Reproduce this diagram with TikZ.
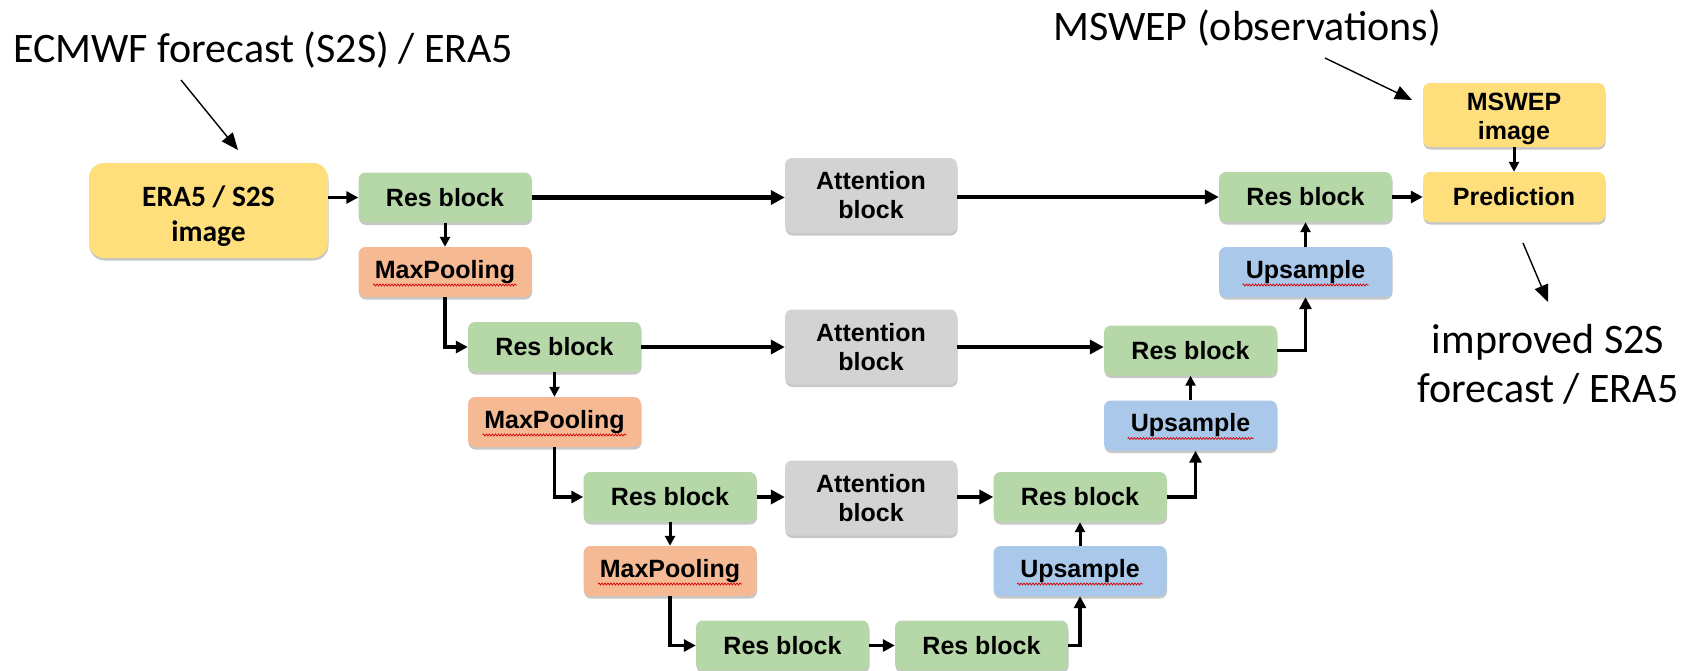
\documentclass[tikz,border=0pt]{standalone}
\usepackage{fontspec}
\setmainfont{Liberation Sans}
\newfontfamily\labelfont{Carlito}
\usetikzlibrary{arrows.meta,shadows,calc,decorations.pathmorphing}

\definecolor{resgreen}{HTML}{B6D7A8}
\definecolor{poolorange}{HTML}{F5B994}
\definecolor{upblue}{HTML}{A9C8EA}
\definecolor{attgray}{HTML}{D3D3D3}
\definecolor{ioyellow}{HTML}{FFDE7C}

\tikzset{
  blk/.style={rounded corners=7pt, minimum width=173pt, minimum height=50pt,
    inner sep=0pt, align=center, font=\bfseries\fontsize{25}{29}\selectfont,
    drop shadow={shadow xshift=0.5pt, shadow yshift=-2.5pt, opacity=0.22, fill=black}},
  res/.style={blk, fill=resgreen},
  pool/.style={blk, fill=poolorange},
  ups/.style={blk, fill=upblue},
  att/.style={blk, fill=attgray, minimum width=172pt, minimum height=75pt},
  io/.style={blk, fill=ioyellow},
  lbl/.style={inner sep=0pt, font=\labelfont\fontsize{42}{49}\selectfont},
  flow/.style={line width=4.5pt, -{Triangle[length=14pt,width=14pt]}},
  elbow/.style={line width=3.5pt, -{Triangle[length=12pt,width=12pt]}},
  short/.style={line width=3pt, -{Triangle[length=10pt,width=10pt]}},
  callout/.style={line width=1.4pt, -{Triangle[length=17pt,width=14pt]}},
  spellline/.style={draw=red!85!black, line width=0.7pt, decorate,
    decoration={snake, amplitude=1pt, segment length=3pt}},
}

% red spell-check wave under a node's text
\newcommand\spellmark[2]{\draw[spellline] ($(#1.center)+(-#2,13)$) -- ($(#1.center)+(#2,13)$);}

\begin{document}
\begin{tikzpicture}[x=1pt,y=-1pt]
\useasboundingbox (0,0) rectangle (1685,670);
\fill[white] (0,0) rectangle (1685,670);

% input / output
\node[io, minimum width=239pt, minimum height=95pt, rounded corners=15pt,
  label={[name=eratext, inner sep=0pt, align=center, yshift=-6pt,
    font=\labelfont\bfseries\fontsize{29.5}{35}\selectfont]center:ERA5 / S2S\\image}]
  (era) at (208.5,210.5) {};
\node[io, minimum width=182pt, minimum height=64pt,
  label={[name=obstext, inner sep=0pt, align=center, yshift=-4pt,
    font=\bfseries\fontsize{25}{29}\selectfont]center:MSWEP\\image}]
  (obs) at (1514,115) {};
\node[io, minimum width=182pt] (pred) at (1514,197) {Prediction};

% encoder
\node[res]  (e1) at (445,197.5) {Res block};
\node[pool] (p1) at (445,272) {MaxPooling};
\node[res]  (e2) at (554.5,347) {Res block};
\node[pool] (p2) at (554.5,422) {MaxPooling};
\node[res]  (e3) at (670,497) {Res block};
\node[pool] (p3) at (670,571) {MaxPooling};

% bottleneck
\node[res] (b1) at (782.5,645.5) {Res block};
\node[res] (b2) at (981.5,645.5) {Res block};

% attention on skip connections
\node[att] (a1) at (871,195.5) {Attention\\block};
\node[att] (a2) at (871,347) {Attention\\block};
\node[att] (a3) at (871,498) {Attention\\block};

% decoder
\node[res] (d3) at (1080,497) {Res block};
\node[ups] (u3) at (1080,571) {Upsample};
\node[res] (d2) at (1190.5,350.5) {Res block};
\node[ups] (u2) at (1190.5,425.5) {Upsample};
\node[res] (d1) at (1305.5,197) {Res block};
\node[ups] (u1) at (1305.5,272) {Upsample};

\spellmark{p1}{72}
\spellmark{p2}{72}
\spellmark{p3}{72}
\spellmark{u1}{63}
\spellmark{u2}{63}
\spellmark{u3}{63}

% encoder path
\draw[elbow] (era.east |- e1.west) -- (e1.west);
\draw[short] (e1) -- (p1);
\draw[elbow] (p1.south) |- (e2.west);
\draw[short] (e2) -- (p2);
\draw[elbow] (p2.south) |- (e3.west);
\draw[short] (e3) -- (p3);
\draw[elbow] (p3.south) |- (b1.west);
\draw[elbow] (b1) -- (b2);

% decoder path
\draw[elbow] (b2.east) -| (u3.south);
\draw[short] (u3) -- (d3);
\draw[elbow] (d3.east) -| ([xshift=5pt]u2.south);
\draw[short] (u2) -- (d2);
\draw[elbow] (d2.east) -| (u1.south);
\draw[short] (u1) -- (d1);
\draw[elbow] (d1) -- (pred);
\draw[short] (obs) -- (pred);

% skip connections through attention
\draw[flow] (e1.east) -- (e1.east -| a1.west);
\draw[flow] (a1.east |- d1.west) -- (d1.west);
\draw[flow] (e2.east) -- (a2.west);
\draw[flow] (a2.east) -- (a2.east -| d2.west);
\draw[flow] (e3.east) -- (e3.east -| a3.west);
\draw[flow] (a3.east |- d3.west) -- (d3.west);

% labels
\node[lbl, anchor=base west] (ecmwf) at (13,62) {ECMWF forecast (S2S) / ERA5};
\node[lbl, anchor=base west] (mswep) at (1053,40) {MSWEP (observations)};
\node[lbl, align=center, anchor=base] (impr) at (1548,402) {improved S2S\\forecast / ERA5};

\coordinate (ecA) at (181,80);
\coordinate (ecB) at (238,150);
\coordinate (msA) at (1325,58);
\coordinate (msB) at (1412,100);
\coordinate (imA) at (1523,243);
\coordinate (imB) at (1548,302);
\draw[callout] (ecA) -- (ecB);
\draw[callout] (msA) -- (msB);
\draw[callout] (imA) -- (imB);
\end{tikzpicture}
\end{document}
